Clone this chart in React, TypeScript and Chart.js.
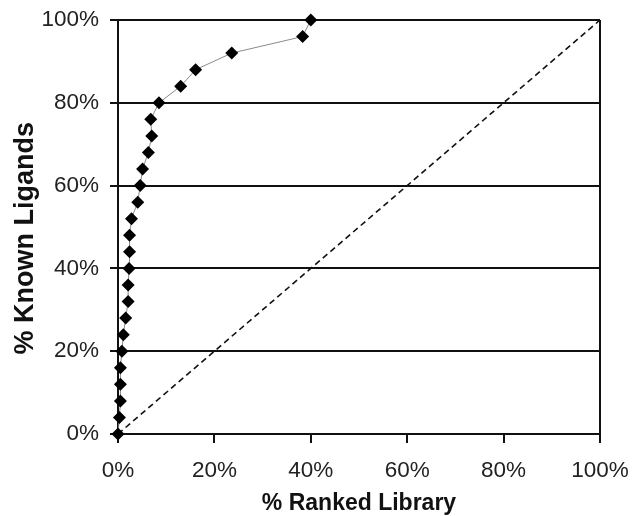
import React, { useEffect, useRef } from "react";
import { Chart, registerables } from "chart.js";

Chart.register(...registerables);

const knownLigandsPct = [0, 4, 8, 12, 16, 20, 24, 28, 32, 36, 40, 44, 48, 52, 56, 60, 64, 68, 72, 76, 80, 84, 88, 92, 96, 100];
const rankedLibraryPct = [0, 0.3, 0.5, 0.5, 0.5, 0.8, 1.1, 1.6, 2.1, 2.1, 2.3, 2.4, 2.4, 2.8, 4.1, 4.6, 5.1, 6.3, 7.0, 6.8, 8.5, 13.0, 16.1, 23.6, 38.3, 40.0];
const randomLineX = [0, 100];
const randomLineY = [0, 100];
const axisTicks = [0, 20, 40, 60, 80, 100];

export default function App() {
  const ref = useRef<HTMLCanvasElement>(null);
  useEffect(() => {
    document.body.style.margin = "0";
    const font = "'Liberation Sans', Arial, sans-serif";
    const chart = new Chart(ref.current!, {
      type: "scatter",
      data: {
        datasets: [
          {
            data: rankedLibraryPct.map((x, i) => ({ x, y: knownLigandsPct[i] })),
            showLine: true,
            borderColor: "#8a8a8a",
            borderWidth: 1,
            pointStyle: "rectRot",
            pointRadius: 6.5,
            pointBackgroundColor: "#000",
            pointBorderColor: "#000",
            pointBorderWidth: 0,
            clip: false,
            order: 0,
          },
          {
            data: randomLineX.map((x, i) => ({ x, y: randomLineY[i] })),
            showLine: true,
            borderColor: "#111",
            borderWidth: 1.6,
            borderDash: [6, 4],
            pointRadius: 0,
            order: 1,
          },
        ],
      },
      options: {
        animation: false,
        responsive: false,
        maintainAspectRatio: false,
        layout: { padding: { top: 20, right: 33, left: 0, bottom: 0 } },
        plugins: { legend: { display: false }, tooltip: { enabled: false } },
        scales: {
          x: {
            type: "linear",
            min: 0,
            max: 100,
            afterBuildTicks: (s: any) => {
              s.ticks = axisTicks.map((v) => ({ value: v }));
            },
            afterFit: (s: any) => {
              s.height = 82;
              s.paddingRight = 0;
              s.paddingLeft = 0;
            },
            ticks: {
              callback: (v: any) => v + "%",
              font: { family: font, size: 22.5 },
              color: "#222",
              padding: 14,
              maxRotation: 0,
            },
            grid: {
              color: (c: any) => (c.tick && c.tick.value === 100 ? "#111" : "rgba(0,0,0,0)"),
              lineWidth: 2,
              tickColor: "#111",
              tickLength: 9,
              drawTicks: true,
            },
            border: { color: "#111", width: 2 },
            title: {
              display: true,
              text: "% Ranked Library",
              font: { family: font, size: 23, weight: "bold" },
              color: "#111",
              padding: { top: 0, bottom: -1 },
            },
          },
          y: {
            type: "linear",
            min: 0,
            max: 100,
            afterBuildTicks: (s: any) => {
              s.ticks = axisTicks.map((v) => ({ value: v }));
            },
            afterFit: (s: any) => {
              s.width = 118;
              s.paddingTop = 0;
              s.paddingBottom = 0;
            },
            ticks: {
              callback: (v: any) => v + "%",
              font: { family: font, size: 22.5 },
              color: "#222",
              padding: 11,
            },
            grid: {
              color: "#111",
              lineWidth: 2,
              tickColor: "#111",
              tickLength: 8,
            },
            border: { color: "#111", width: 2 },
            title: {
              display: true,
              text: "% Known Ligands   ",
              font: { family: font, size: 27, weight: "bold" },
              color: "#111",
              padding: { top: 9, bottom: 0 },
            },
          },
        },
      },
    });
    return () => chart.destroy();
  }, []);
  return (
    <div style={{ width: 633, height: 516 }}>
      <canvas ref={ref} width={633} height={516} style={{ display: "block" }} />
    </div>
  );
}
